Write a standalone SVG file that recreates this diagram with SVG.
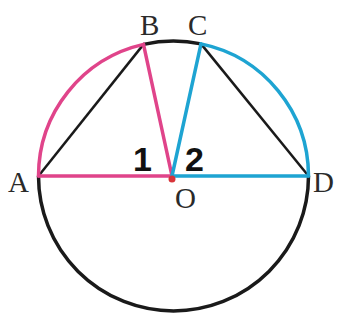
<svg xmlns="http://www.w3.org/2000/svg" width="342" height="320" viewBox="0 0 342 320">
<style>
.lbl{font-family:"Liberation Serif","Times New Roman",serif;font-size:29px;fill:#2a2a2a}
.num{font-family:"Liberation Sans",Arial,sans-serif;font-weight:bold;font-size:34px;fill:#111}
.pink{stroke:#E0448A;fill:none;stroke-width:3.5;stroke-linecap:round}
.blue{stroke:#1EA4D2;fill:none;stroke-width:3.5;stroke-linecap:round}
.blk{stroke:#1a1a1a;fill:none;stroke-width:3.5}
.chord{stroke:#1a1a1a;fill:none;stroke-width:2.5}
</style>
<rect width="342" height="320" fill="#ffffff"/>
<g id="connectors">
<path class="blk" d="M 308.5 176 A 135 135 0 0 1 38.5 176"/>
<path class="blk" d="M 143.5 44.4 A 135 135 0 0 1 201 43.9"/>
<line class="chord" x1="38.5" y1="176" x2="143.5" y2="44.4"/>
<line class="chord" x1="201" y1="43.9" x2="308.5" y2="176"/>
<path class="pink" d="M 38.5 176 A 135 135 0 0 1 143.5 44.4"/>
<path class="blue" d="M 201 43.9 A 135 135 0 0 1 308.5 176"/>
<line class="pink" x1="38.5" y1="176" x2="172" y2="176"/>
<line class="pink" x1="143.5" y1="44.4" x2="172" y2="176"/>
<line class="blue" x1="172" y1="176" x2="308.5" y2="176"/>
<line class="blue" x1="172" y1="176" x2="201" y2="43.9"/>
</g>
<g id="O"><circle cx="172" cy="179" r="3.5" fill="#D8343A"/><text class="lbl" x="175" y="208">O</text></g>
<g id="A"><text class="lbl" x="8" y="192">A</text></g>
<g id="B"><text class="lbl" x="140" y="35">B</text></g>
<g id="C"><text class="lbl" x="188" y="35">C</text></g>
<g id="D"><text class="lbl" x="313" y="192">D</text></g>
<g id="angle1"><text class="num" x="133" y="171">1</text></g>
<g id="angle2"><text class="num" x="185" y="171">2</text></g>
</svg>
